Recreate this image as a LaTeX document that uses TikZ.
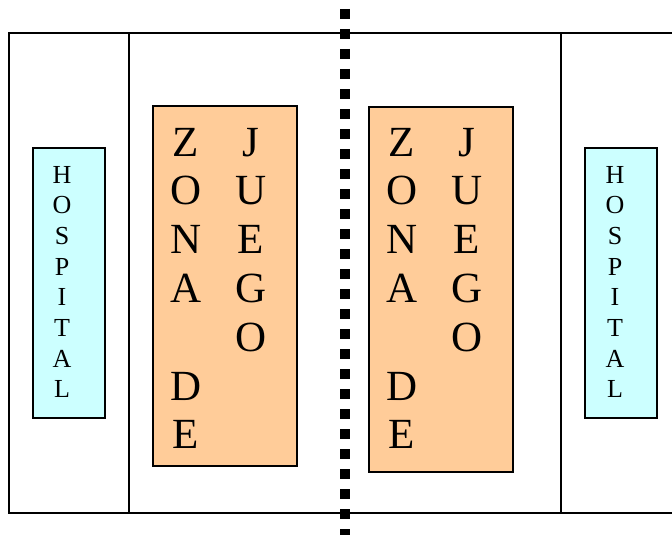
\documentclass[tikz,border=0pt]{standalone}
\usepackage{fontspec}
\setmainfont{Liberation Serif}
\usepackage{xcolor}
\definecolor{naranja}{HTML}{FFCC99}
\definecolor{celeste}{HTML}{CCFFFF}
\begin{document}
\begin{tikzpicture}[x=1pt,y=-1pt,
	linea/.style={line width=1.5pt},
	zona/.style={draw,line width=1.5pt,fill=naranja},
	hosp/.style={draw,line width=1.5pt,fill=celeste},
	letra/.style={anchor=base,inner sep=0pt,font=\fontsize{43}{43}\selectfont},
	letrita/.style={anchor=base,inner sep=0pt,font=\fontsize{26}{26}\selectfont}]
	\useasboundingbox (0,0) rectangle (672,535);
	% Campo
	\draw [linea] (672,33) -- (9,33) -- (9,513) -- (672,513);
	\foreach \x in {129,561}
	\draw [linea] (\x,33) -- (\x,513);
	% Hospitales
	\draw [hosp] (33,148) rectangle (105,418);
	\draw [hosp] (585,148) rectangle (657,418);
	\foreach \x/\s in {62/a,615/b}
	\foreach \l [count=\i from 0] in {H,O,S,P,I,T,A,L}
	\node [letrita] (hosp-\s-\i) at (\x,183+30.7*\i) {\l};
	% Zonas de juego
	\draw [zona] (153,106) rectangle (297,466);
	\draw [zona] (369,107) rectangle (513,472);
	\foreach \dx/\s in {0/a,216/b} {
		\foreach \l/\r in {Z/0,O/1,N/2,A/3,D/5,E/6}
		\node [letra] (zona-\s-\r) at (186+\dx,156+48.8*\r) {\l};
		\foreach \l/\r in {J/0,U/1,E/2,G/3,O/4}
		\node [letra] (juego-\s-\r) at (251+\dx,156+48.8*\r) {\l};
	}
	% Linea central
	\draw [line width=10pt,dash pattern=on 10pt off 10pt,dash phase=11pt] (345,0) -- (345,535);
\end{tikzpicture}
\end{document}
